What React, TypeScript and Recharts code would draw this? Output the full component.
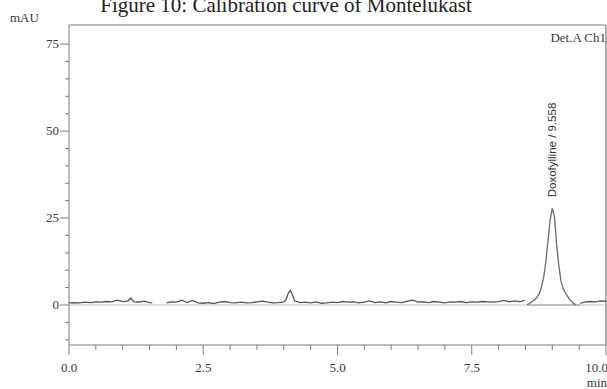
import { LineChart, Line, XAxis, YAxis, ReferenceLine, ReferenceDot } from "recharts"

// retention time (min), signal (mAU)
const traceStart: [number, number][] = [
  [0.0, 0.6], [0.1, 0.7], [0.2, 0.6], [0.3, 0.8], [0.4, 0.7], [0.5, 0.9], [0.6, 0.8], [0.7, 1.0],
  [0.8, 0.9], [0.9, 1.4], [1.0, 1.0], [1.1, 1.2], [1.15, 2.0], [1.2, 1.0], [1.3, 0.8], [1.4, 1.1],
  [1.5, 0.7], [1.55, 0.6],
]

const traceMiddle: [number, number][] = [
  [1.82, 0.6], [1.9, 0.9], [2.0, 0.8], [2.1, 1.4], [2.2, 0.7], [2.3, 1.3], [2.4, 0.6], [2.5, 0.5],
  [2.6, 0.7], [2.7, 0.4], [2.8, 0.8], [2.9, 1.0], [3.0, 0.7], [3.1, 0.6], [3.2, 0.8], [3.3, 0.6],
  [3.4, 0.7], [3.5, 0.9], [3.6, 1.1], [3.7, 0.8], [3.8, 0.6], [3.9, 0.7], [4.0, 0.9], [4.04, 1.5],
  [4.08, 3.2], [4.12, 4.2], [4.16, 3.0], [4.2, 1.2], [4.3, 0.7], [4.4, 0.8], [4.5, 0.6], [4.6, 0.9],
  [4.7, 0.5], [4.8, 0.6], [4.9, 0.8], [5.0, 0.7], [5.1, 1.0], [5.2, 0.8], [5.3, 0.9], [5.4, 0.6],
  [5.5, 0.8], [5.6, 1.2], [5.7, 0.7], [5.8, 0.9], [5.9, 0.6], [6.0, 1.0], [6.1, 0.8], [6.2, 0.7],
  [6.3, 1.1], [6.4, 1.4], [6.5, 0.8], [6.6, 0.9], [6.7, 0.7], [6.8, 1.0], [6.9, 0.8], [7.0, 0.6],
  [7.1, 0.9], [7.2, 0.8], [7.3, 1.0], [7.4, 0.7], [7.5, 0.9], [7.6, 0.8], [7.7, 1.0], [7.8, 0.9],
  [7.9, 0.8], [8.0, 1.0], [8.1, 1.3], [8.2, 0.9], [8.3, 1.2], [8.4, 1.0], [8.49, 1.3],
]

const peakTrace: [number, number][] = [
  [8.53, 0.1], [8.56, 0.3], [8.6, 0.7], [8.64, 1.2], [8.68, 1.6], [8.72, 2.4], [8.76, 3.4], [8.8, 5.3],
  [8.84, 8.0], [8.88, 12.5], [8.92, 18.5], [8.96, 24.5], [9.0, 27.8], [9.04, 25.5], [9.08, 17.5],
  [9.12, 11.5], [9.16, 7.0], [9.2, 4.8], [9.24, 3.6], [9.28, 2.6], [9.32, 1.6], [9.36, 1.0],
  [9.4, 0.4], [9.44, 0.1],
]

const peakBaseline: [number, number][] = [[8.53, 0], [9.52, 0]]

const traceEnd: [number, number][] = [
  [9.52, 0.5], [9.6, 0.8], [9.7, 1.0], [9.8, 0.9], [9.9, 1.2], [10.0, 1.0],
]

const xTicks = [0, 0.5, 1, 1.5, 2, 2.5, 3, 3.5, 4, 4.5, 5, 5.5, 6, 6.5, 7, 7.5, 8, 8.5, 9, 9.5, 10]
const yTicks = [-10, -5, 0, 5, 10, 15, 20, 25, 30, 35, 40, 45, 50, 55, 60, 65, 70, 75]

const peakName = "Doxofylline / 9.558"
const peakTime = 9.0
const peakHeight = 27.8

const toRows = (pts: [number, number][]) => pts.map(([t, v]) => ({ t, v }))

const serif = "'Liberation Serif', 'Times New Roman', serif"
const axisColor = "#7a7a7a"
const textColor = "#3a3a3a"

function XTick(props: any) {
  const { x, y, payload } = props
  const v = payload.value
  const major = Math.abs(v / 2.5 - Math.round(v / 2.5)) < 1e-6
  const isLast = v === 10
  return (
    <g>
      <line x1={x} x2={x} y1={y} y2={y + (major ? 10 : 5)} stroke={axisColor} strokeWidth={1} />
      {major && (
        <text
          x={isLast ? x + 2 : x}
          y={y + 27}
          textAnchor={isLast ? "end" : "middle"}
          fontFamily={serif}
          fontSize={13}
          fill={textColor}
        >
          {v.toFixed(1)}
        </text>
      )}
    </g>
  )
}

function YTick(props: any) {
  const { x, y, payload } = props
  const v = payload.value
  const major = v % 25 === 0
  return (
    <g>
      <line x1={x - (major ? 9 : 4)} x2={x} y1={y} y2={y} stroke={axisColor} strokeWidth={1} />
      {major && (
        <text x={x - 10} y={y + 4} textAnchor="end" fontFamily={serif} fontSize={13} fill={textColor}>
          {v}
        </text>
      )}
    </g>
  )
}

function PeakLabel(props: any) {
  const { viewBox } = props
  const cx = viewBox.x + (viewBox.width || 0) / 2
  const cy = viewBox.y
  return (
    <text
      transform={`translate(${cx + 4}, ${cy - 11}) rotate(-90)`}
      textAnchor="start"
      fontFamily="'Liberation Sans', Arial, sans-serif"
      fontSize={11.5}
      fill="#333"
    >
      {peakName}
    </text>
  )
}

export default function App() {
  const lineProps = {
    type: "linear" as const,
    dataKey: "v",
    stroke: "#555",
    strokeWidth: 1.3,
    dot: false,
    isAnimationActive: false,
  }
  return (
    <div style={{ position: "absolute", left: 0, top: 0, width: 607, height: 389, background: "#fff" }}>
      <div
        style={{
          position: "absolute",
          left: 0,
          width: 572,
          top: -5,
          textAlign: "center",
          fontFamily: serif,
          fontSize: 21,
          color: "#222",
          lineHeight: "21px",
          whiteSpace: "nowrap",
        }}
      >
        Figure 10: Calibration curve of Montelukast
      </div>
      <div style={{ position: "absolute", left: 10, top: 10, fontFamily: serif, fontSize: 13, color: textColor }}>
        mAU
      </div>
      <div
        style={{ position: "absolute", right: 1, top: 30, fontFamily: serif, fontSize: 13, color: textColor }}
      >
        Det.A Ch1
      </div>
      <div
        style={{
          position: "absolute",
          right: 0,
          top: 377,
          fontFamily: serif,
          fontSize: 13,
          lineHeight: "11px",
          color: textColor,
        }}
      >
        min
      </div>
      <LineChart width={607} height={389} margin={{ top: 25, right: 1, bottom: 0, left: 0 }}>
        <XAxis
          type="number"
          dataKey="t"
          domain={[0, 10]}
          ticks={xTicks}
          interval={0}
          height={44}
          tickSize={0}
          tickMargin={0}
          tickLine={false}
          tick={<XTick />}
          stroke={axisColor}
          allowDataOverflow
        />
        <YAxis
          type="number"
          domain={[-11.5, 80.5]}
          ticks={yTicks}
          interval={0}
          width={69}
          tickSize={0}
          tickMargin={0}
          tickLine={false}
          tick={<YTick />}
          stroke={axisColor}
          allowDataOverflow
        />
        <ReferenceLine y={80.5} stroke={axisColor} strokeWidth={1.2} />
        <ReferenceLine x={10} stroke={axisColor} strokeWidth={1.2} />
        <ReferenceLine y={0} stroke="#c4c4c4" strokeWidth={1.2} />
        <Line {...lineProps} data={toRows(peakBaseline)} stroke="#9a9a9a" strokeWidth={1} />
        <Line {...lineProps} data={toRows(traceStart)} />
        <Line {...lineProps} data={toRows(traceMiddle)} />
        <Line {...lineProps} data={toRows(peakTrace)} stroke="#6a6a6a" />
        <Line {...lineProps} data={toRows(traceEnd)} />
        <ReferenceDot x={peakTime} y={peakHeight} r={0} stroke="none" label={<PeakLabel />} />
      </LineChart>
    </div>
  )
}
